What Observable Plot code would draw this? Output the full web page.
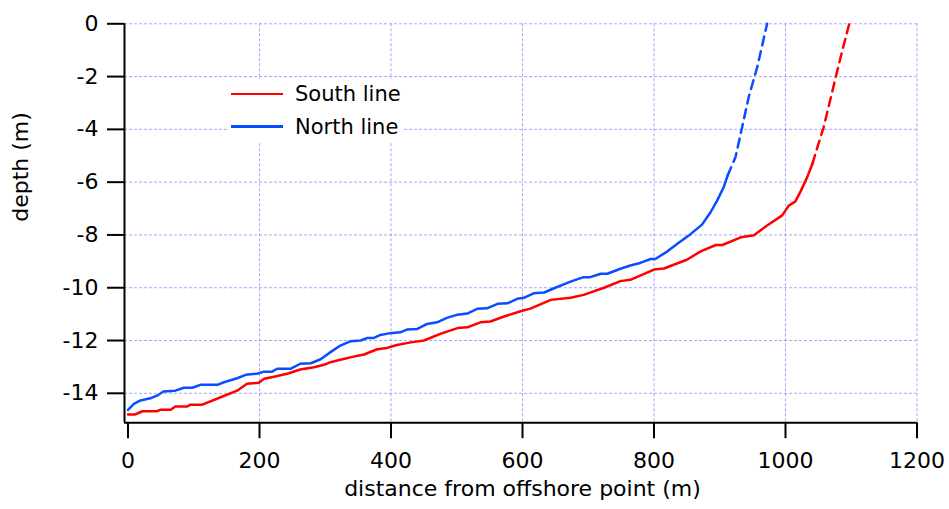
<!DOCTYPE html>
<html>
<head>
<meta charset="utf-8">
<script src="https://cdn.jsdelivr.net/npm/d3@7"></script>
<script src="https://cdn.jsdelivr.net/npm/@observablehq/plot@0.6"></script>
<style>
  body { margin: 0; background: #fff; font-family: "DejaVu Sans", sans-serif; }
  #wrap { position: relative; width: 949px; height: 509px; }
  #legend { position: absolute; left: 227px; top: 79px; width: 176px; height: 64px; background: #fff; }
  .sw { position: absolute; left: 4px; width: 52px; height: 2.5px; }
  .lab { position: absolute; left: 68px; font-size: 21px; line-height: 24px; color: #000; white-space: nowrap; }
</style>
</head>
<body>
<div id="wrap">
  <div id="chart"></div>
  <div id="legend">
    <div class="sw" style="top:13.75px;background:#ff0000"></div>
    <div class="lab" style="top:3px">South line</div>
    <div class="sw" style="top:46.4px;background:#0a4cff"></div>
    <div class="lab" style="top:35.7px">North line</div>
  </div>
</div>
<script>
// distances (m) and depths (m)
const southX = [0,11,22,44,50,65,72,90,95,113,141,166,181,199,207,222,242,262,283,298,308,323,343,359,379,394,409,430,450,475,501,516,536,551,572,597,612,628,643,673,693,724,749,764,800,815,850,871,894,904,932,952,972,995,1005,1015,1023,1033,1041];
const southY = [-14.80,-14.80,-14.68,-14.68,-14.62,-14.62,-14.50,-14.50,-14.43,-14.43,-14.15,-13.90,-13.64,-13.60,-13.45,-13.37,-13.26,-13.10,-13.01,-12.92,-12.82,-12.73,-12.61,-12.53,-12.33,-12.28,-12.17,-12.07,-12.00,-11.75,-11.53,-11.50,-11.31,-11.28,-11.09,-10.89,-10.79,-10.62,-10.46,-10.38,-10.27,-10.00,-9.75,-9.70,-9.31,-9.27,-8.94,-8.62,-8.38,-8.38,-8.09,-8.01,-7.64,-7.26,-6.89,-6.73,-6.35,-5.81,-5.30];
const southExtX = [1041,1047,1058,1074,1086,1097];
const southExtY = [-5.30,-4.80,-3.92,-2.27,-1.05,0];

const northX = [0,9,19,34,44,54,72,85,98,110,136,146,166,179,196,207,219,227,247,262,278,293,308,323,338,354,364,374,384,399,414,425,440,455,470,485,501,516,531,546,562,577,592,602,617,633,648,673,693,703,719,729,749,764,779,795,802,820,835,856,873,886,896,906,912];
const northY = [-14.63,-14.40,-14.27,-14.19,-14.09,-13.93,-13.90,-13.79,-13.79,-13.68,-13.68,-13.58,-13.43,-13.30,-13.26,-13.18,-13.18,-13.07,-13.07,-12.88,-12.86,-12.71,-12.44,-12.19,-12.03,-12.00,-11.90,-11.90,-11.79,-11.72,-11.69,-11.58,-11.56,-11.37,-11.31,-11.14,-11.02,-10.98,-10.80,-10.78,-10.61,-10.59,-10.42,-10.38,-10.21,-10.18,-10.02,-9.77,-9.60,-9.60,-9.47,-9.47,-9.28,-9.16,-9.06,-8.91,-8.91,-8.63,-8.34,-7.96,-7.61,-7.14,-6.70,-6.19,-5.75];
const northExtX = [912,924,934,944,957,972];
const northExtY = [-5.75,-5.05,-3.92,-2.78,-1.64,0];

const xTicks = [0,200,400,600,800,1000,1200];
const yTicks = [0,-2,-4,-6,-8,-10,-12,-14];
const xTitle = "distance from offshore point (m)";
const yTitle = "depth (m)";

const toRows = (xs, ys) => xs.map((x, i) => ({x, y: ys[i]}));
const south = toRows(southX, southY);
const southExt = toRows(southExtX, southExtY);
const north = toRows(northX, northY);
const northExt = toRows(northExtX, northExtY);

const red = "#ff0000", blue = "#0a4cff", gridC = "#8080ff";

const chart = Plot.plot({
  width: 949, height: 509,
  marginLeft: 127.5, marginRight: 32.5, marginTop: 23.3, marginBottom: 89.8,
  style: {fontFamily: "DejaVu Sans, sans-serif", fontSize: "22px", color: "#000", background: "#fff", overflow: "visible"},
  x: {domain: [0, 1200], axis: null},
  y: {domain: [-15, 0], axis: null},
  marks: [
    Plot.gridX(xTicks.filter(d => d > 0), {stroke: gridC, strokeOpacity: 0.7, strokeWidth: 1, strokeDasharray: "3,2", insetBottom: -3}),
    Plot.gridY(yTicks, {stroke: gridC, strokeOpacity: 0.7, strokeWidth: 1, strokeDasharray: "3,2", insetLeft: -3.5}),
    Plot.line(south, {x: "x", y: "y", stroke: red, strokeWidth: 2.5}),
    Plot.line(southExt, {x: "x", y: "y", stroke: red, strokeWidth: 2.5, strokeDasharray: "9,6"}),
    Plot.line(north, {x: "x", y: "y", stroke: blue, strokeWidth: 2.5}),
    Plot.line(northExt, {x: "x", y: "y", stroke: blue, strokeWidth: 2.5, strokeDasharray: "9,6"}),
    Plot.ruleX([0], {dx: -3.5, stroke: "#000", strokeWidth: 2, insetBottom: -3}),
    Plot.ruleY([-15], {dy: 3, stroke: "#000", strokeWidth: 2, insetLeft: -3.5}),
    Plot.axisX(xTicks, {tickSize: 16, tickPadding: 14, dy: 3, stroke: "#000", strokeWidth: 2, fill: "#000", fontSize: 22, label: null, tickFormat: d => String(d)}),
    Plot.axisY(yTicks, {tickSize: 17, tickPadding: 9, dx: -3.5, stroke: "#000", strokeWidth: 2, fill: "#000", fontSize: 22, label: null, tickFormat: d => String(d)}),
    Plot.text([xTitle], {text: d => d, frameAnchor: "bottom", dy: 75.8, fontSize: 22, fill: "#000"}),
    Plot.text([yTitle], {text: d => d, frameAnchor: "left", dx: -107.5, rotate: -90, fontSize: 22, fill: "#000"})
  ]
});
document.getElementById("chart").appendChild(chart);
</script>
</body>
</html>
